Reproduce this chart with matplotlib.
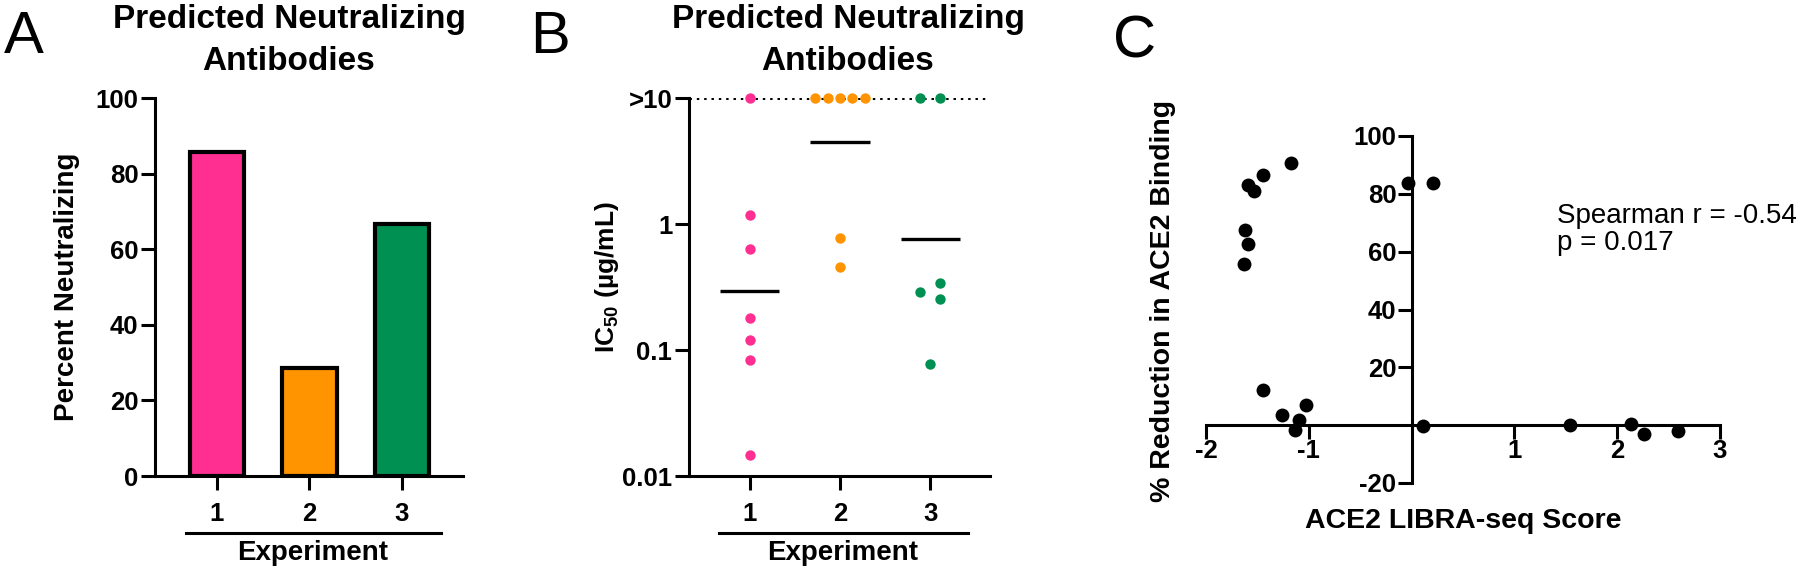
import numpy as np
import matplotlib.pyplot as plt

plt.rcParams['font.family'] = ['Liberation Sans', 'DejaVu Sans']
plt.rcParams['font.weight'] = 'bold'
plt.rcParams['mathtext.fontset'] = 'custom'
plt.rcParams['mathtext.rm'] = 'Liberation Sans'
plt.rcParams['axes.unicode_minus'] = False
plt.rcParams['axes.linewidth'] = 2.2

# Panel A - percent neutralizing per experiment
experiments = [1, 2, 3]
percent_neutralizing = [85.7, 28.6, 66.7]
colors = ['#FF2F92', '#FF9300', '#009051']

# Panel B - IC50 (ug/mL); values above 10 are plotted at 10 (">10")
ic50_exp1 = [10, 1.18, 0.63, 0.18, 0.121, 0.083, 0.0148]
ic50_exp2 = [10, 10, 10, 10, 10, 0.77, 0.456]
ic50_exp3 = [10, 10, 0.287, 0.342, 0.252, 0.077]
jitter_exp1 = [0, 0, 0, 0, 0, 0, 0]
jitter_exp2 = [-0.274, -0.137, 0, 0.137, 0.274, 0, 0]
jitter_exp3 = [-0.115, 0.11, -0.115, 0.11, 0.11, 0]

# Panel C - LIBRA-seq score vs % reduction in ACE2 binding
libra_score = [-1.177, -1.449, -1.590, -1.529, -1.623, -1.594, -1.626, -0.034, 0.21,
               -1.446, -1.262, -1.095, -1.024, -1.138, 0.108, 1.539, 2.13, 2.26, 2.595]
ace2_reduction = [90.6, 86.5, 83.1, 81.0, 67.6, 62.5, 55.9, 83.7, 83.8,
                  12.3, 3.5, 1.8, 7.0, -1.7, -0.4, 0.1, 0.3, -2.9, -2.1]

W, H = 1800, 573
fig = plt.figure(figsize=(W / 100, H / 100), dpi=100)


def px_axes(left, top, right, bottom):
    # axes placed by pixel edges of the figure
    return fig.add_axes([left / W, 1 - bottom / H, (right - left) / W, (bottom - top) / H])


def style(ax):
    for s in ['top', 'right']:
        ax.spines[s].set_visible(False)
    ax.tick_params(width=2.2, length=10, labelsize=18.5)


def experiment_axis(ax):
    ax.set_xlim(0.33, 3.66)
    ax.set_xticks(experiments)
    ax.tick_params(axis='x', pad=9)
    ax.tick_params(axis='y', pad=2)
    ax.plot([0.66, 3.42], [-0.15, -0.15], transform=ax.get_xaxis_transform(),
            color='k', lw=2.2, clip_on=False)
    ax.text(2.03, -0.205, 'Experiment', transform=ax.get_xaxis_transform(),
            ha='center', va='center', fontsize=20)


# ---- A ----
axA = px_axes(155, 98, 463, 476)
style(axA)
axA.bar(experiments, percent_neutralizing, width=0.59, color=colors,
        edgecolor='black', linewidth=3)
axA.set_ylim(0, 100)
axA.set_yticks([0, 20, 40, 60, 80, 100])
experiment_axis(axA)
axA.text(-0.286, 0.5, 'Percent Neutralizing', transform=axA.transAxes,
         rotation=90, ha='center', va='center', fontsize=20)

# ---- B ----
axB = px_axes(689, 98, 990, 476)
style(axB)
axB.set_yscale('log')
axB.set_ylim(0.01, 10)
axB.axhline(10, color='k', lw=2.2, ls=(0, (0.8, 1.6)), zorder=1)
groups = [(ic50_exp1, jitter_exp1), (ic50_exp2, jitter_exp2), (ic50_exp3, jitter_exp3)]
for x, (vals, jit), c in zip(experiments, groups, colors):
    vals = np.array(vals)
    axB.scatter(x + np.array(jit), vals, s=56, color=c, zorder=3, clip_on=False,
                linewidths=0)
    gmean = 10 ** np.mean(np.log10(vals))
    axB.hlines(gmean, x - 0.33, x + 0.33, color='k', lw=2.4, zorder=2)
axB.set_yticks([0.01, 0.1, 1, 10])
axB.set_yticklabels(['0.01', '0.1', '1', '>10'])
axB.minorticks_off()
experiment_axis(axB)
axB.text(-0.272, 0.526, r'IC$_{\mathrm{50}}$ (µg/mL)', transform=axB.transAxes,
         rotation=90, ha='center', va='center', fontsize=19)

# ---- C ----
axC = px_axes(1206, 136, 1720, 483)
style(axC)
axC.spines['left'].set_position(('data', 0))
axC.spines['bottom'].set_position(('data', 0))
axC.scatter(libra_score, ace2_reduction, s=100, color='k', zorder=3, clip_on=False,
            linewidths=0)
axC.set_xlim(-2, 3)
axC.set_ylim(-20, 100)
axC.set_xticks([-2, -1, 1, 2, 3])
axC.set_yticks([-20, 20, 40, 60, 80, 100])
axC.tick_params(axis='x', pad=0)
axC.tick_params(axis='y', pad=1)
axC.text(-0.083, 0.525, '% Reduction in ACE2 Binding', transform=axC.transAxes,
         rotation=90, ha='center', va='center', fontsize=20.5)
axC.text(0.5, -0.11, 'ACE2 LIBRA-seq Score', transform=axC.transAxes,
         ha='center', va='center', fontsize=20.5)
fig.text(1557 / W, 1 - 203 / H, 'Spearman r = -0.54\np = 0.017', ha='left', va='top',
         fontsize=20, fontweight='normal', linespacing=1.05)

# titles and panel letters
for xc in [289, 848]:
    fig.text(xc / W, 1 - 4 / H, 'Predicted Neutralizing\nAntibodies', ha='center',
             va='top', fontsize=24, linespacing=1.45)
for xl, yb, letter in [(4, 53, 'A'), (530, 53, 'B'), (1113, 58, 'C')]:
    fig.text(xl / W, 1 - yb / H, letter, ha='left', va='baseline', fontsize=43,
             fontweight='normal')

fig.savefig('out.png', dpi=100)
